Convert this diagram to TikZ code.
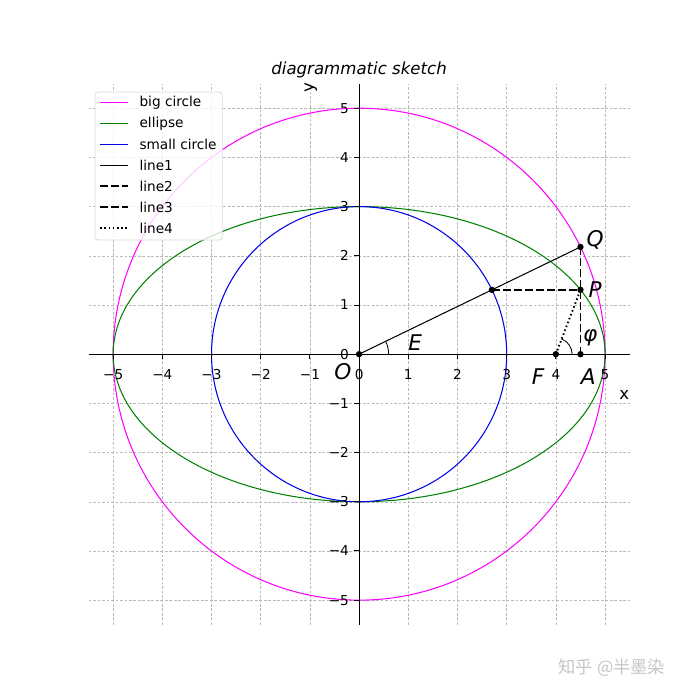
\documentclass[tikz,border=0pt]{standalone}
\usepackage{fontspec}
\setmainfont{DejaVu Sans}
\newfontfamily\cjkfont{Noto Sans CJK SC}
\usetikzlibrary{calc}
\definecolor{bigcol}{RGB}{255,0,255}
\definecolor{ellcol}{RGB}{0,128,0}
\definecolor{smallcol}{RGB}{0,0,230}
\tikzset{
  gridline/.style={gray!55, line width=0.28pt, dash pattern=on 1.6pt off 1pt},
  axisline/.style={black, line width=0.55pt},
  bigline/.style={bigcol, line width=0.6pt},
  ellline/.style={ellcol, line width=0.6pt},
  smallline/.style={smallcol, line width=0.6pt},
  line1/.style={black, line width=0.6pt},
  line2/.style={black, line width=1.1pt, dash pattern=on 4.4pt off 2pt},
  line4/.style={black, line width=1.1pt, dash pattern=on 0.9pt off 1.5pt},
  ticklabel/.style={font=\fontsize{7.9}{9}\selectfont, inner sep=0pt},
  ptlabel/.style={font=\fontsize{12.5}{14}\selectfont\itshape, inner sep=0pt},
  legendtext/.style={font=\fontsize{7.9}{9}\selectfont, anchor=west, inner sep=0pt},
  dot/.style={fill=black}
}
\begin{document}
\begin{tikzpicture}
		%%%%% START %%%%%
		\useasboundingbox (-7.30,-7.03) rectangle (6.93,7.20);
		
		% grid
		\foreach \i in {-5,...,5} {
			\draw[gridline] (\i,-5.5) -- (\i,5.5);
			\draw[gridline] (-5.5,\i) -- (5.5,\i);
		}
		
		% curves
		\draw[bigline] (0,0) circle (5);
		\draw[ellline] (0,0) ellipse (5 and 3);
		\draw[smallline] (0,0) circle (3);
		
		% axes
		\draw[axisline] (-5.5,0) -- (5.5,0);
		\draw[axisline] (0,-5.5) -- (0,5.5);
		\foreach \x/\t in {-5/−5,-4/−4,-3/−3,-2/−2,-1/−1,0/0,1/1,2/2,3/3,4/4,5/5} {
			\draw[axisline] (\x,0) -- (\x,-0.1);
			\node[ticklabel] (xt\x) at (\x,-0.41) {\t};
			\draw[axisline] (0,\x) -- (-0.1,\x);
			\node[ticklabel, anchor=east] (yt\x) at (-0.2,\x) {\t};
		}
		\node[font=\fontsize{9.6}{11}\selectfont\itshape] (title) at (0,5.77) {diagrammatic sketch};
		\node[font=\fontsize{9.6}{11}\selectfont, rotate=90] (ylab) at (-0.98,5.41) {y};
		\node[font=\fontsize{9.6}{11}\selectfont] (xlab) at (5.39,-0.83) {x};
		
		% points
		\coordinate (O) at (0,0);
		\coordinate (Q) at (4.5,2.1794);
		\coordinate (P) at (4.5,1.3077);
		\coordinate (S) at (2.7,1.3077);
		\coordinate (F) at (4,0);
		\coordinate (A) at (4.5,0);
		
		\draw[line1] (O) -- (Q);
		\draw[line2] (S) -- (P);
		\draw[line2] (Q) -- (A);
		\draw[line4] (F) -- (P);
		
		\draw[line width=0.5pt] ($(O)+(0.6,0)$) arc (0:25.84:0.6);
		\draw[line width=0.5pt] ($(F)+(0.33,0)$) arc (0:69.08:0.33);
		
		\foreach \p in {O,Q,P,S,F,A}
			\fill[dot] (\p) circle (0.065);
		
		\node[ptlabel] (lO) at (-0.33,-0.35) {O};
		\node[ptlabel] (lE) at (1.14,0.24) {E};
		\node[ptlabel] (lQ) at (4.8,2.32) {Q};
		\node[ptlabel] (lP) at (4.8,1.32) {P};
		\node[ptlabel] (lphi) at (4.7,0.34) {φ};
		\node[ptlabel] (lF) at (3.64,-0.45) {F};
		\node[ptlabel] (lA) at (4.66,-0.45) {A};
		
		% legend
		\draw[gray!30, fill=white, fill opacity=0.8, rounded corners=2pt] (-5.37,5.33) rectangle (-2.78,2.32);
		\foreach \k/\s/\t in {0/bigline/big circle, 1/ellline/ellipse, 2/smallline/small circle, 3/line1/line1, 4/line2/line2, 5/line2/line3, 6/line4/line4} {
			\coordinate (h\k) at (-5.26,{5.12-0.427*\k});
			\draw[\s] (h\k) -- ++(0.56,0);
			\node[legendtext] (leg\k) at (-4.47,{5.12-0.427*\k}) {\t};
		}
		
		% watermark
		\node[font=\fontsize{10}{12}\selectfont\cjkfont, text=gray!45] (mark) at (5.14,-6.38) {知乎 @半墨染};
		%%%%% END %%%%%
\end{tikzpicture}
\end{document}
